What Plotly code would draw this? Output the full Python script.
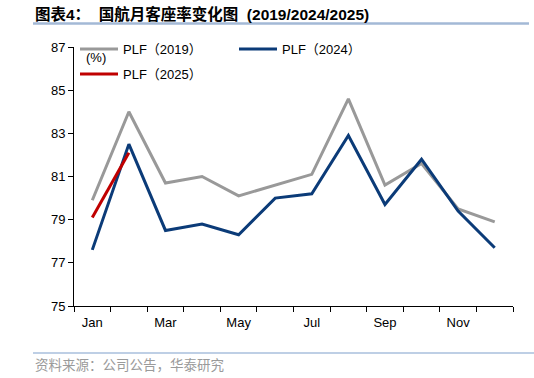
import plotly.graph_objects as go

months = ["Jan", "Feb", "Mar", "Apr", "May", "Jun", "Jul", "Aug", "Sep", "Oct", "Nov", "Dec"]
tick_labels = ["Jan", "Mar", "May", "Jul", "Sep", "Nov"]
plf_2019 = [79.9, 84.0, 80.7, 81.0, 80.1, 80.6, 81.1, 84.6, 80.6, 81.6, 79.5, 78.9]
plf_2024 = [77.6, 82.5, 78.5, 78.8, 78.3, 80.0, 80.2, 82.9, 79.7, 81.8, 79.4, 77.7]
plf_2025 = [79.1, 82.1]

month_idx = list(range(1, len(months) + 1))
label_idx = [month_idx[months.index(m)] for m in tick_labels]

W, H = 534, 378
ML, MR, MT, MB = 74, 21, 47, 72
PW, PH = W - ML - MR, H - MT - MB


def px(x):
    return (x - ML) / PW


def py(y):
    return (H - MB - y) / PH


fig = go.Figure()
fig.add_trace(go.Scatter(x=month_idx, y=plf_2019, mode="lines", name="PLF（2019）",
                         line=dict(color="#999999", width=3), legend="legend"))
fig.add_trace(go.Scatter(x=month_idx, y=plf_2024, mode="lines", name="PLF（2024）",
                         line=dict(color="#0b3b78", width=3), legend="legend"))
fig.add_trace(go.Scatter(x=month_idx[:len(plf_2025)], y=plf_2025, mode="lines", name="PLF（2025）",
                         line=dict(color="#c00000", width=3), legend="legend2"))

font_main = "Arial, Liberation Sans, Noto Sans CJK SC, sans-serif"
legend_common = dict(orientation="h", xref="container", yref="container",
                     xanchor="left", yanchor="middle", bgcolor="rgba(0,0,0,0)",
                     font=dict(family=font_main, size=13, color="#000"),
                     itemwidth=38,
                     entrywidth=106, entrywidthmode="pixels", tracegroupgap=0)

fig.update_layout(
    width=W, height=H,
    margin=dict(l=ML, r=MR, t=MT, b=MB, autoexpand=False),
    paper_bgcolor="white", plot_bgcolor="white",
    font=dict(family=font_main, size=13, color="#000"),
    showlegend=True,
    legend=dict(x=(80 - 5) / W, y=1 - 49 / H, **legend_common),
    legend2=dict(x=(80 - 5) / W, y=1 - 74 / H, **legend_common),
    xaxis=dict(range=[0.5, 12.5], tickmode="array", tickvals=label_idx, ticktext=tick_labels,
               ticks="", ticklabelstandoff=4,
               minor=dict(tickmode="linear", tick0=0.5, dtick=1, ticks="outside", ticklen=5,
                          tickcolor="#000", showgrid=False),
               showline=True, linecolor="#000", linewidth=1, showgrid=False, zeroline=False,
               tickfont=dict(size=13, color="#000")),
    yaxis=dict(range=[75, 87], dtick=2, tick0=75, ticks="outside", ticklen=5, tickcolor="#000",
               showline=True, linecolor="#000", linewidth=1, showgrid=False, zeroline=False,
               tickfont=dict(size=13, color="#000")),
    annotations=[
        dict(text="<b>图表4：  国航月客座率变化图  (2019/2024/2025)</b>", x=px(33), y=py(14),
             xref="paper", yref="paper", xanchor="left", yanchor="middle", showarrow=False,
             font=dict(family="Arial, Noto Sans CJK SC, sans-serif", size=15.5, color="#000")),
        dict(text="(%)", x=px(84), y=py(57), xref="paper", yref="paper", xanchor="left",
             yanchor="middle", showarrow=False, font=dict(size=13, color="#000")),
        dict(text="资料来源：公司公告，华泰研究", x=px(33), y=py(364), xref="paper", yref="paper",
             xanchor="left", yanchor="middle", showarrow=False,
             font=dict(family="Noto Sans CJK SC, sans-serif", size=13.5, color="#9a9a9a")),
    ],
    shapes=[
        dict(type="line", xref="paper", yref="paper", x0=px(33), x1=px(529), y0=py(23.5), y1=py(23.5),
             layer="above", line=dict(color="#a3b9d6", width=2.5)),
        dict(type="line", xref="paper", yref="paper", x0=px(33), x1=px(534), y0=py(353), y1=py(353),
             layer="above", line=dict(color="#a8bfdc", width=1.5)),
    ],
)

fig.write_html("out.html", config={"displayModeBar": False},
               post_script="document.body.style.margin='0px';")
